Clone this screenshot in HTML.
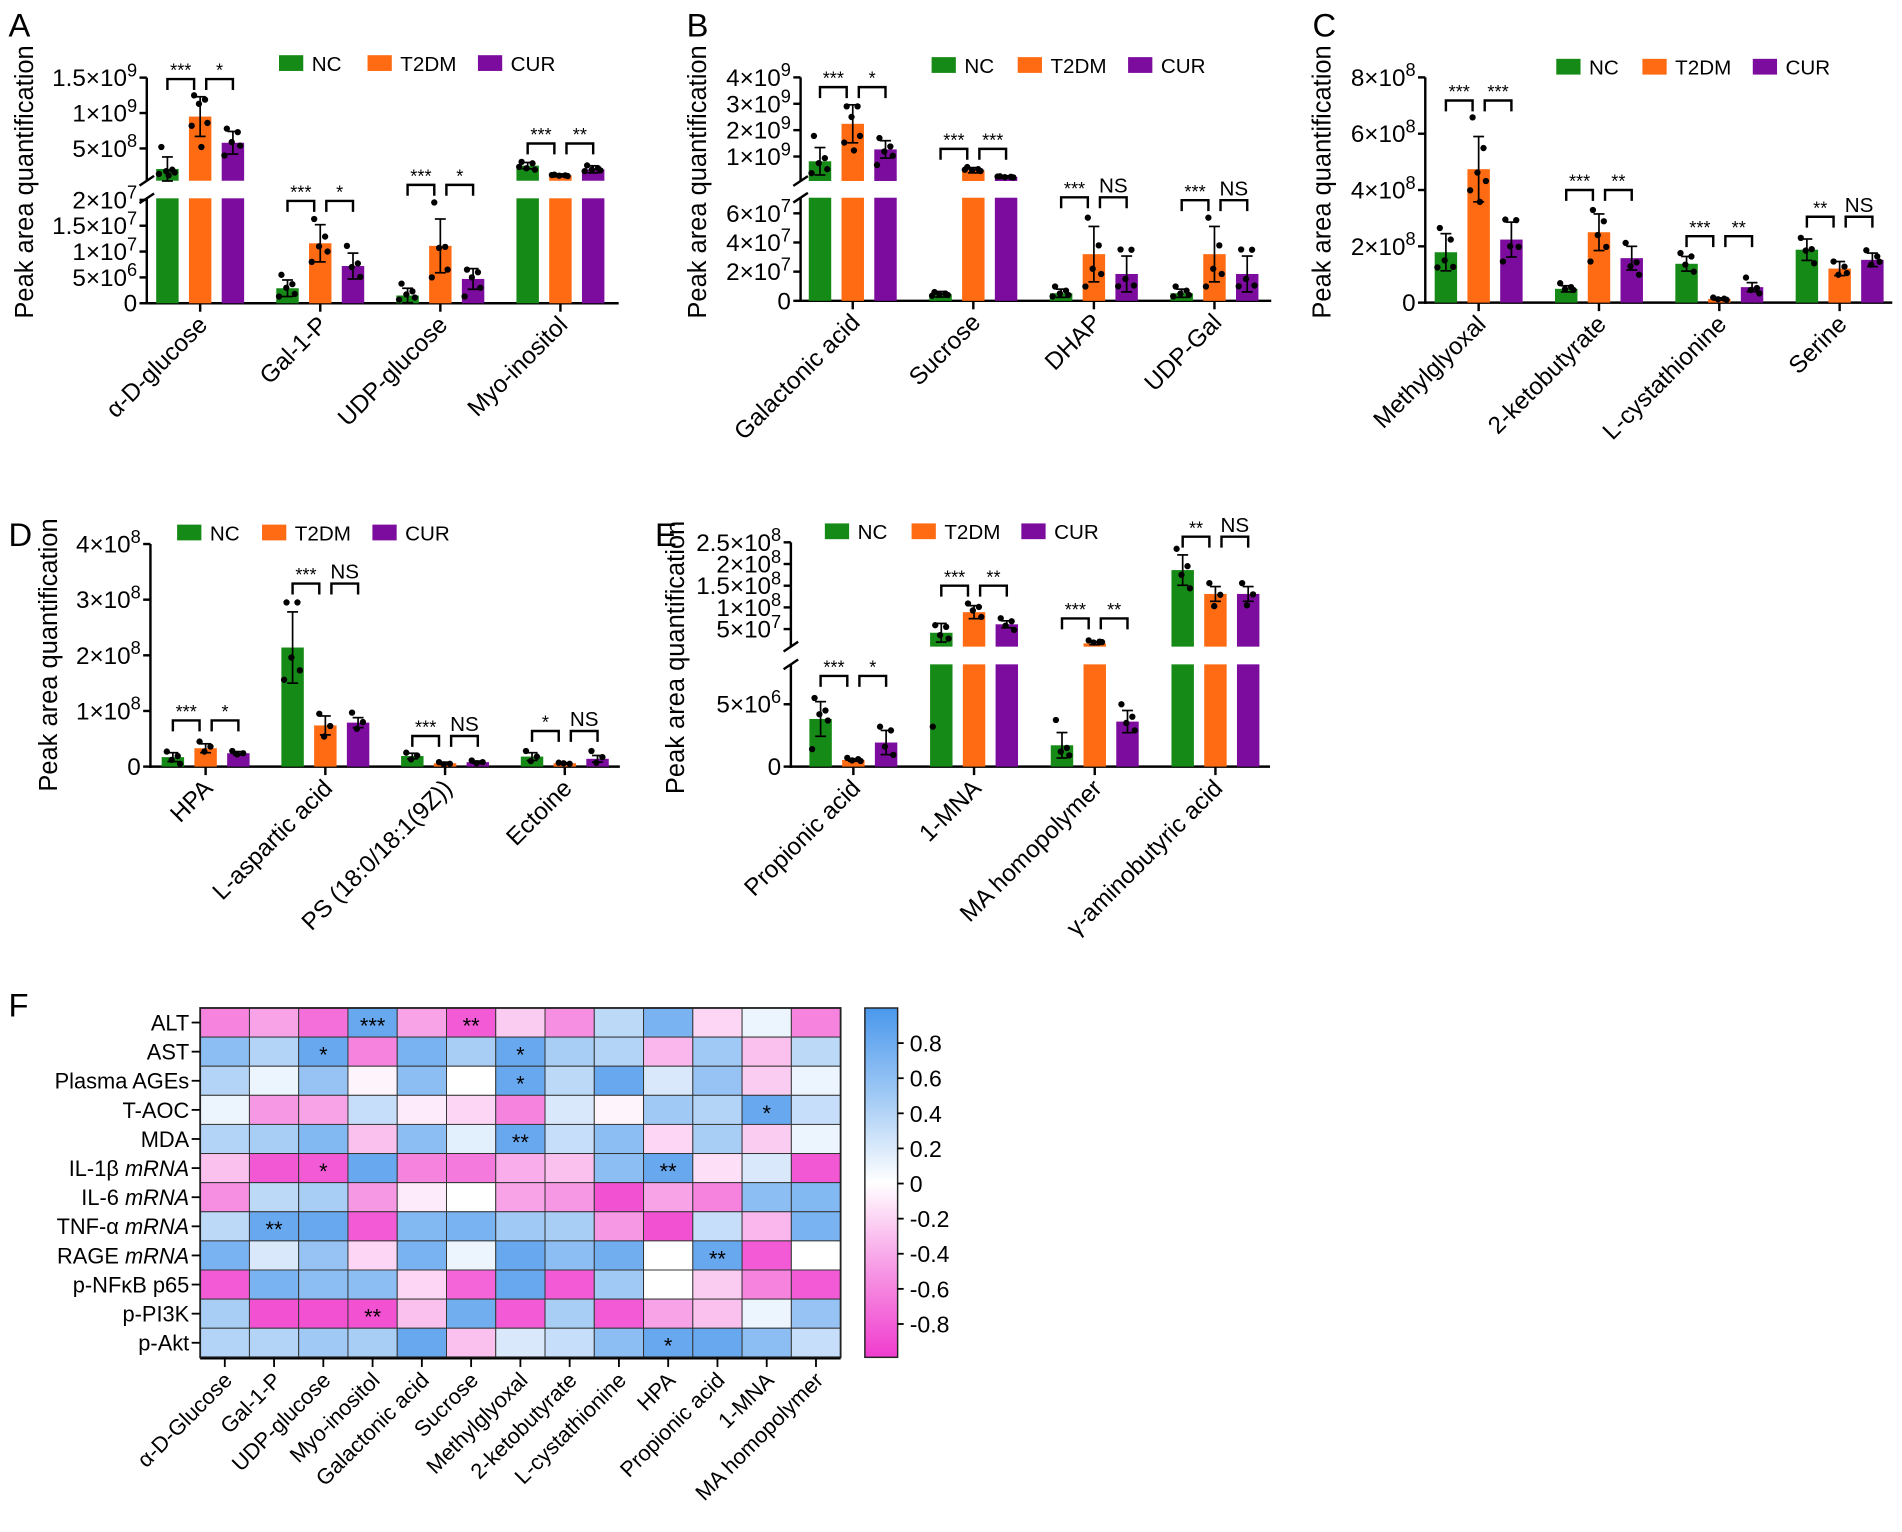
<!DOCTYPE html>
<html><head><meta charset="utf-8"><style>
html,body{margin:0;padding:0;background:#fff;}
svg{display:block;font-family:"Liberation Sans",Arial,sans-serif;}
</style></head><body>
<svg id="fig" xmlns="http://www.w3.org/2000/svg" width="1902" height="1532" viewBox="0 0 1568 1263"></svg>
<script>
// ---------- DATA ----------
const seriesNames = ["NC","T2DM","CUR"];
// Panel A
const aCats = ["α-D-glucose","Gal-1-P","UDP-glucose","Myo-inositol"];
const aMean = [[2.1e8,9.5e8,5.8e8],[2.9e6,1.16e7,7.2e6],[1.5e6,1.11e7,4.7e6],[2.57e8,1.2e8,2.05e8]];
const aSd = [[1.7e8,2.8e8,1.6e8],[1.6e6,3.6e6,2.5e6],[1.4e6,5.2e6,2.0e6],[0.45e8,0.2e8,0.5e8]];
const aPts = [[[5.2e8,2e8,1.8e8,1.6e8,1.4e8,1.2e8],[1.25e9,1.19e9,1.13e9,8.6e8,8.2e8,5.2e8],[7.8e8,7.3e8,5.9e8,5.4e8,4.0e8]],
 [[5.5e6,3.7e6,3e6,1.8e6,1.3e6],[1.63e7,1.29e7,1.1e7,1e7,8e6],[1.11e7,7.7e6,7e6,5.1e6]],
 [[3.8e6,2.3e6,1.7e6,1.1e6,0.7e6],[1.95e7,1.09e7,1.07e7,6.5e6,5e6],[6.5e6,6e6,5e6,3e6,1.3e6]],
 [[3.1e8,2.9e8,2.2e8,2e8,2.4e8],[1.3e8,1.2e8,1.15e8,1.1e8,1.25e8],[2.6e8,2.2e8,2e8,1.9e8,1.8e8]]];
const aSig = [[1.48e9,1,"***","*"],[1.98e7,0,"***","*"],[2.29e7,0,"***","*"],[5.7e8,1,"***","**"]];
const aTicksLo = [0,5e6,1e7,1.5e7,2e7];
const aTickLabLo = ["0","5×10^6","1×10^7","1.5×10^7","2×10^7"];
const aTicksHi = [5e8,1e9,1.5e9];
const aTickLabHi = ["5×10^8","1×10^9","1.5×10^9"];
// Panel B
const bCats = ["Galactonic acid","Sucrose","DHAP","UDP-Gal"];
const bMean = [[0.82e9,2.24e9,1.27e9],[0.45e7,0.48e9,0.23e9],[0.52e7,3.2e7,1.84e7],[0.52e7,3.2e7,1.84e7]];
const bSd = [[0.52e9,0.72e9,0.33e9],[0.19e7,0.1e9,0.04e9],[0.28e7,1.9e7,1.23e7],[0.28e7,1.9e7,1.23e7]];
const bPts = [[[1.78e9,0.94e9,0.75e9,0.52e9,0.37e9],[2.9e9,2.9e9,2.5e9,1.78e9,1.53e9,1.23e9],[1.7e9,1.38e9,1.19e9,1.03e9,0.68e9]],
 [[0.6e7,0.5e7,0.45e7,0.4e7,0.35e7],[0.6e9,0.52e9,0.48e9,0.45e9,0.5e9],[0.25e9,0.23e9,0.22e9,0.21e9,0.24e9]],
 [[0.98e7,0.7e7,0.5e7,0.4e7,0.3e7],[5.7e7,3.8e7,2.2e7,1.84e7,0.98e7],[3.52e7,3.5e7,1.5e7,1.05e7,1.0e7]],
 [[0.98e7,0.7e7,0.5e7,0.4e7,0.3e7],[5.7e7,3.8e7,2.2e7,1.84e7,0.98e7],[3.52e7,3.5e7,1.5e7,1.05e7,1.0e7]]];
const bSig = [[3.63e9,1,"***","*"],[1.29e9,1,"***","***"],[7.1e7,0,"***","NS"],[6.9e7,0,"***","NS"]];
const bTicksLo = [0,2e7,4e7,6e7];
const bTickLabLo = ["0","2×10^7","4×10^7","6×10^7"];
const bTicksHi = [1e9,2e9,3e9,4e9];
const bTickLabHi = ["1×10^9","2×10^9","3×10^9","4×10^9"];
// Panel C
const cCats = ["Methylglyoxal","2-ketobutyrate","L-cystathionine","Serine"];
const cMean = [[1.79e8,4.74e8,2.24e8],[0.49e8,2.5e8,1.58e8],[1.38e8,0.13e8,0.55e8],[1.88e8,1.21e8,1.52e8]];
const cSd = [[0.66e8,1.16e8,0.62e8],[0.11e8,0.65e8,0.42e8],[0.26e8,0.04e8,0.16e8],[0.38e8,0.25e8,0.24e8]];
const cPts = [[[2.65e8,2.24e8,1.5e8,1.27e8,1.25e8],[6.58e8,5.49e8,4.62e8,4.32e8,3.99e8,3.58e8],[2.95e8,2.93e8,2.0e8,1.98e8,1.46e8]],
 [[0.69e8,0.55e8,0.48e8,0.45e8],[3.29e8,2.89e8,2.4e8,1.98e8,1.46e8],[2.12e8,1.43e8,1.29e8,0.99e8]],
 [[1.76e8,1.64e8,1.35e8,1.1e8],[0.18e8,0.14e8,0.12e8,0.1e8],[0.89e8,0.52e8,0.45e8,0.33e8]],
 [[2.3e8,1.9e8,1.85e8,1.4e8],[1.46e8,1.28e8,0.99e8,1.05e8],[1.86e8,1.64e8,1.35e8,1.45e8]]];
const cSig = [[7.18e8,0,"***","***"],[4.0e8,0,"***","**"],[2.36e8,0,"***","**"],[3.05e8,0,"**","NS"]];
const cTicks = [0,2e8,4e8,6e8,8e8];
const cTickLab = ["0","2×10^8","4×10^8","6×10^8","8×10^8"];
// Panel D
const dCats = ["HPA","L-aspartic acid","PS (18:0/18:1(9Z))","Ectoine"];
const dMean = [[0.17e8,0.33e8,0.24e8],[2.14e8,0.74e8,0.79e8],[0.19e8,0.06e8,0.08e8],[0.18e8,0.06e8,0.14e8]];
const dSd = [[0.08e8,0.08e8,0.03e8],[0.64e8,0.17e8,0.09e8],[0.05e8,0.02e8,0.02e8],[0.07e8,0.01e8,0.06e8]];
const dPts = [[[0.27e8,0.19e8,0.12e8,0.05e8],[0.45e8,0.36e8,0.27e8],[0.28e8,0.24e8,0.22e8]],
 [[2.95e8,2.95e8,1.96e8,1.73e8,1.56e8],[0.95e8,0.73e8,0.54e8],[0.97e8,0.8e8,0.68e8]],
 [[0.25e8,0.2e8,0.13e8],[0.08e8,0.05e8,0.04e8],[0.11e8,0.08e8,0.06e8]],
 [[0.28e8,0.18e8,0.1e8],[0.07e8,0.05e8,0.06e8],[0.28e8,0.17e8,0.07e8]]];
const dSig = [[0.83e8,0,"***","*"],[3.29e8,0,"***","NS"],[0.55e8,0,"***","NS"],[0.64e8,0,"*","NS"]];
const dTicks = [0,1e8,2e8,3e8,4e8];
const dTickLab = ["0","1×10^8","2×10^8","3×10^8","4×10^8"];
// Panel E
const eCats = ["Propionic acid","1-MNA","MA homopolymer","γ-aminobutyric acid"];
const eMean = [[3.82e6,0.53e6,1.93e6],[4.15e7,8.9e7,6.1e7],[1.71e6,1.7e7,3.61e6],[1.86e8,1.31e8,1.31e8]];
const eSd = [[1.39e6,0.1e6,0.97e6],[2.15e7,1.5e7,0.8e7],[1.02e6,0.3e7,0.89e6],[0.35e8,0.17e8,0.17e8]];
const ePts = [[[5.5e6,4.5e6,4.2e6,3.7e6,1.4e6],[0.7e6,0.6e6,0.5e6,0.45e6],[3.2e6,2.9e6,1.6e6,0.94e6]],
 [[5.9e7,5.5e7,3.6e7,2.8e7,3.2e6],[1.09e8,1.01e8,9.3e7,7.8e7],[7.5e7,6.8e7,5.8e7,4.8e7]],
 [[3.74e6,1.5e6,1.2e6,0.9e6],[2.4e7,2.1e7,1.9e7,2.0e7],[5e6,4e6,3.5e6,2.9e6]],
 [[2.35e8,1.95e8,1.75e8,1.44e8],[1.56e8,1.29e8,1.03e8],[1.56e8,1.3e8,1.05e8]]];
const eSig = [[7.27e6,0,"***","*"],[1.5e8,1,"***","**"],[7.46e7,1,"***","**"],[2.63e8,1,"**","NS"]];
const eTicksLo = [0,5e6];
const eTickLabLo = ["0","5×10^6"];
const eTicksHi = [5e7,1e8,1.5e8,2e8,2.5e8];
const eTickLabHi = ["5×10^7","1×10^8","1.5×10^8","2×10^8","2.5×10^8"];
// Panel F heatmap
const fRows = ["ALT","AST","Plasma AGEs","T-AOC","MDA","IL-1β|mRNA","IL-6|mRNA","TNF-α|mRNA","RAGE|mRNA","p-NFκB p65","p-PI3K","p-Akt"];
const fCols = ["α-D-Glucose","Gal-1-P","UDP-glucose","Myo-inositol","Galactonic acid","Sucrose","Methylglyoxal","2-ketobutyrate","L-cystathionine","HPA","Propionic acid","1-MNA","MA homopolymer"];
const fVals = [
 [-0.6,-0.45,-0.7,0.8,-0.45,-0.8,-0.25,-0.55,0.35,0.7,-0.2,0.1,-0.6],
 [0.6,0.4,0.8,-0.6,0.7,0.45,0.8,0.45,0.4,-0.35,0.5,-0.3,0.35],
 [0.4,0.1,0.55,-0.05,0.6,0.0,0.8,0.35,0.8,0.2,0.55,-0.25,0.1],
 [0.1,-0.5,-0.45,0.3,-0.1,-0.2,-0.6,0.2,-0.05,0.5,0.4,0.8,0.3],
 [0.4,0.45,0.65,-0.3,0.6,0.15,0.8,0.3,0.6,-0.2,0.45,-0.25,0.1],
 [-0.3,-0.82,-0.8,0.8,-0.6,-0.65,-0.4,-0.3,0.6,0.8,-0.15,0.2,-0.82],
 [-0.55,0.35,0.45,-0.5,-0.1,0.0,-0.45,-0.5,-0.85,-0.45,-0.6,0.6,0.65],
 [0.35,0.8,0.8,-0.8,0.65,0.7,0.5,0.45,-0.5,-0.85,0.3,-0.35,0.7],
 [0.7,0.2,0.55,-0.2,0.7,0.1,0.8,0.6,0.75,0.0,0.8,-0.8,0.0],
 [-0.8,0.7,0.6,0.6,-0.2,-0.75,0.8,-0.8,0.5,0.0,-0.25,-0.6,-0.8],
 [0.45,-0.85,-0.85,-0.85,-0.3,0.75,-0.8,0.45,-0.8,-0.45,-0.3,0.1,0.55],
 [0.4,0.4,0.5,0.45,0.8,-0.3,0.2,0.3,0.6,0.8,0.8,0.6,0.3]];
const fStars = [[0,3,"***"],[0,5,"**"],[1,2,"*"],[1,6,"*"],[2,6,"*"],[3,11,"*"],[4,6,"**"],[5,2,"*"],[5,9,"**"],[7,1,"**"],[8,10,"**"],[10,3,"**"],[11,9,"*"]];
const cbTicks = [0.8,0.6,0.4,0.2,0,-0.2,-0.4,-0.6,-0.8];

// ---------- DRAW ----------
const NS = "http://www.w3.org/2000/svg";
const svg = document.getElementById("fig");
const COLORS = ["#168a16","#ff6b12","#7b0c9d"];
function mk(tag, attrs, parent){
  const el = document.createElementNS(NS, tag);
  for (const k in attrs) el.setAttribute(k, attrs[k]);
  (parent||svg).appendChild(el);
  return el;
}
function supText(parent, x, y, lab, size, anchor){
  const t = mk("text",{x:x,y:y,"font-size":size,"text-anchor":anchor||"end",fill:"#000"},parent);
  const parts = lab.split("^");
  const a = document.createElementNS(NS,"tspan"); a.textContent = parts[0]; t.appendChild(a);
  if (parts[1]) { const b = document.createElementNS(NS,"tspan"); b.setAttribute("dy",-8); b.setAttribute("font-size",size*0.75); b.textContent = parts[1]; t.appendChild(b); }
  return t;
}
function makeScale(segs){
  return function(v, seg){
    let s;
    if (seg !== undefined) s = segs[seg];
    else s = (segs.length>1 && v > segs[0].d1) ? segs[1] : segs[0];
    return s.y0 + (v - s.d0)/(s.d1 - s.d0)*(s.y1 - s.y0);
  };
}
function drawPanel(P){
  const g = mk("g",{});
  
  
  const L = P.layout, segs = P.segs, y = makeScale(segs);
  const lt = mk("text",{x:L.letter[0],y:L.letter[1],"font-size":27,fill:"#000"},g);
  lt.textContent = P.letter;
  
  
  const yt = mk("text",{x:0,y:0,"font-size":21,"text-anchor":"middle",transform:`translate(${L.yTitle[0]},${L.yTitle[1]}) rotate(-90)`},g);
  yt.textContent = "Peak area quantification";
  
  
  const ax = mk("g",{stroke:"#000","stroke-width":2,fill:"none"},g);
  
  
  segs.forEach(s=>{ mk("line",{x1:L.ax,x2:L.ax,y1:s.y0+(s===segs[0]?1:0),y2:s.y1},ax); });
  if (segs.length>1){
    mk("line",{x1:L.ax-6,y1:segs[0].y1+4,x2:L.ax+6,y2:segs[0].y1-4},ax);
    mk("line",{x1:L.ax-6,y1:segs[1].y0+4,x2:L.ax+6,y2:segs[1].y0-4},ax);
  }
  P.ticks.forEach((tk,si)=>{
    tk.v.forEach((v,i)=>{
      const yy = y(v, si);
      mk("line",{x1:L.ax-6,x2:L.ax,y1:yy,y2:yy},ax);
      const t = supText(g, L.ax-8, yy+7, tk.l[i], 20);
      
      
    });
  });
  const xa = mk("line",{x1:L.ax-1,x2:L.xEnd,y1:L.ay,y2:L.ay,stroke:"#000","stroke-width":2},g);
  
  
  const bw = 18.5, off = 27;
  P.cats.forEach((c,gi)=>{
    const gx = L.g0 + gi*L.step;
    mk("line",{x1:gx,x2:gx,y1:L.ay,y2:L.ay+7,stroke:"#000","stroke-width":2},g);
    const ct = mk("text",{x:0,y:0,"font-size":20,"text-anchor":"end",transform:`translate(${gx+7},${L.ay+19}) rotate(-45)`},g);
    ct.textContent = c;
    
    
    for (let s=0;s<3;s++){
      const cx = gx + (s-1)*off, m = P.mean[gi][s], sd = P.sd[gi][s];
      const bg = mk("g",{},g);
      
      
      if (segs.length>1 && m > segs[0].d1){
        mk("rect",{x:cx-bw/2,y:segs[0].y1,width:bw,height:L.ay-segs[0].y1,fill:COLORS[s]},bg);
        const yt2 = y(m);
        mk("rect",{x:cx-bw/2,y:yt2,width:bw,height:segs[1].y0-yt2,fill:COLORS[s]},bg);
      } else {
        const yt2 = y(m);
        mk("rect",{x:cx-bw/2,y:yt2,width:bw,height:L.ay-yt2,fill:COLORS[s]},bg);
      }
      const hi = y(m+sd), lo = y(Math.max(m-sd, 0));
      mk("line",{x1:cx,x2:cx,y1:hi,y2:lo,stroke:"#000","stroke-width":1.4},bg);
      mk("line",{x1:cx-4.5,x2:cx+4.5,y1:hi,y2:hi,stroke:"#000","stroke-width":1.4},bg);
      mk("line",{x1:cx-4.5,x2:cx+4.5,y1:lo,y2:lo,stroke:"#000","stroke-width":1.4},bg);
      const jit = [-5,4,-1,6,-7,1];
      P.pts[gi][s].forEach((v,k)=>{
        const p = mk("circle",{cx:cx+jit[k%jit.length],cy:y(v),r:2.6,fill:"#000"},bg);
        
        
      });
    }
    const sg = P.sig[gi], yb = y(sg[0], sg[1]);
    const br = mk("g",{stroke:"#000","stroke-width":2,fill:"none"},g);
    
    
    const pairs = [[gx-off, gx-5],[gx+5, gx+off]];
    pairs.forEach((pr,k)=>{
      mk("polyline",{points:`${pr[0]},${yb+9} ${pr[0]},${yb} ${pr[1]},${yb} ${pr[1]},${yb+9}`},br);
      const lab = sg[2+k];
      const st = mk("text",{x:(pr[0]+pr[1])/2,y:lab==="NS"?yb-4:yb-2,"font-size":lab==="NS"?17:15,"text-anchor":"middle",fill:"#000"},g);
      st.textContent = lab;
      
      
    });
  });
  const lg = mk("g",{},g);
  
  
  seriesNames.forEach((n,i)=>{
    const e = mk("g",{},lg);
    
    
    mk("rect",{x:L.leg[i],y:L.legY-6.5,width:20,height:13,fill:COLORS[i]},e);
    const t = mk("text",{x:L.leg[i]+27,y:L.legY+6.5,"font-size":17,fill:"#000"},e);
    t.textContent = n;
  });
}
drawPanel({name:"panel-a",letter:"A",cats:aCats,mean:aMean,sd:aSd,pts:aPts,sig:aSig,
  ticks:[{v:aTicksLo,l:aTickLabLo},{v:aTicksHi,l:aTickLabHi}],
  segs:[{d0:0,d1:2.03e7,y0:250,y1:163.5},{d0:0.044e9,d1:1.5e9,y0:149,y1:64}],
  layout:{ax:121,ay:250,xEnd:510,g0:165,step:99,letter:[7,30],yTitle:[27,150],leg:[230,303,394],legY:52}});
drawPanel({name:"panel-b",letter:"B",cats:bCats,mean:bMean,sd:bSd,pts:bPts,sig:bSig,
  ticks:[{v:bTicksLo,l:bTickLabLo},{v:bTicksHi,l:bTickLabHi}],
  segs:[{d0:0,d1:7.07e7,y0:248,y1:163},{d0:0.073e9,d1:4e9,y0:149.2,y1:63.8}],
  layout:{ax:660,ay:248,xEnd:1048,g0:703,step:99.4,letter:[566,30],yTitle:[582,150],leg:[768,839,930],legY:53.6}});
drawPanel({name:"panel-c",letter:"C",cats:cCats,mean:cMean,sd:cSd,pts:cPts,sig:cSig,
  ticks:[{v:cTicks,l:cTickLab}],
  segs:[{d0:0,d1:8e8,y0:249.5,y1:63.8}],
  layout:{ax:1175,ay:249.5,xEnd:1560,g0:1219,step:99.2,letter:[1082,30],yTitle:[1097,150],leg:[1283,1354,1445],legY:55}});
drawPanel({name:"panel-d",letter:"D",cats:dCats,mean:dMean,sd:dSd,pts:dPts,sig:dSig,
  ticks:[{v:dTicks,l:dTickLab}],
  segs:[{d0:0,d1:4e8,y0:632,y1:448.5}],
  layout:{ax:124,ay:632,xEnd:511,g0:169.5,step:98.7,letter:[7,450],yTitle:[47,540],leg:[146,216,307],legY:439}});
drawPanel({name:"panel-e",letter:"E",cats:eCats,mean:eMean,sd:eSd,pts:ePts,sig:eSig,
  ticks:[{v:eTicksLo,l:eTickLabLo},{v:eTicksHi,l:eTickLabHi}],
  segs:[{d0:0,d1:8.2e6,y0:632,y1:547.7},{d0:0.95e7,d1:2.5e8,y0:533.1,y1:447.1}],
  layout:{ax:652,ay:632,xEnd:1047,g0:703.5,step:99.5,letter:[540,450],yTitle:[564,542],leg:[680,751.5,842],legY:438}});

// Heatmap
function colorOf(v){
  const pos=[74,152,236], neg=[240,60,205];
  const c = v>=0?pos:neg, a=Math.min(Math.abs(v)/0.95,1);
  const r = Math.round(255+(c[0]-255)*a), gg=Math.round(255+(c[1]-255)*a), b=Math.round(255+(c[2]-255)*a);
  return `rgb(${r},${gg},${b})`;
}
const HM = {x0:165,x1:693,y0:831,y1:1119};
const hg = mk("g",{});


const fl = mk("text",{x:7,y:838,"font-size":27},hg);
fl.textContent = "F";


const cw = (HM.x1-HM.x0)/fCols.length, rh = (HM.y1-HM.y0)/fRows.length;
fVals.forEach((row,ri)=>{
  row.forEach((v,ci)=>{
    const r = mk("rect",{x:HM.x0+ci*cw,y:HM.y0+ri*rh,width:cw,height:rh,fill:colorOf(v),stroke:"#333","stroke-width":0.8},hg);
    
    
  });
});
mk("rect",{x:HM.x0,y:HM.y0,width:HM.x1-HM.x0,height:HM.y1-HM.y0,fill:"none",stroke:"#222","stroke-width":1.5},hg);
fStars.forEach(s=>{
  const t = mk("text",{x:HM.x0+(s[1]+0.5)*cw,y:HM.y0+(s[0]+0.5)*rh+9,"font-size":18,"text-anchor":"middle"},hg);
  t.textContent = s[2];
  
  
});
fRows.forEach((n,ri)=>{
  const yy = HM.y0+(ri+0.5)*rh;
  mk("line",{x1:HM.x0-7,x2:HM.x0,y1:yy,y2:yy,stroke:"#000","stroke-width":1.5},hg);
  const t = mk("text",{x:HM.x0-9,y:yy+6.5,"font-size":18,"text-anchor":"end"},hg);
  const p = n.split("|");
  const a = document.createElementNS(NS,"tspan"); a.textContent = p[0] + (p[1]?" ":""); t.appendChild(a);
  if (p[1]){ const b=document.createElementNS(NS,"tspan"); b.setAttribute("font-style","italic"); b.textContent=p[1]; t.appendChild(b); }
  
  
});
mk("line",{x1:HM.x0,x2:HM.x1,y1:HM.y1+1,y2:HM.y1+1,stroke:"#000","stroke-width":1.5},hg);
fCols.forEach((n,ci)=>{
  const xx = HM.x0+(ci+0.5)*cw;
  mk("line",{x1:xx,x2:xx,y1:HM.y1,y2:HM.y1+8,stroke:"#000","stroke-width":1.5},hg);
  const t = mk("text",{x:0,y:0,"font-size":18,"text-anchor":"end",transform:`translate(${xx+7},${HM.y1+20}) rotate(-45)`},hg);
  t.textContent = n;
  
  
});
// colorbar
const defs = mk("defs",{});
const lgd = mk("linearGradient",{id:"cbg",x1:0,y1:0,x2:0,y2:1},defs);
[1,0.5,0,-0.5,-1].forEach((v,i)=>{ mk("stop",{offset:(i*25)+"%","stop-color":colorOf(v)},lgd); });
const cb = mk("g",{});


const CB = {x:713,w:27,y0:831,y1:1119,vTop:1.0,vBot:-0.99};
mk("rect",{x:CB.x,y:CB.y0,width:CB.w,height:CB.y1-CB.y0,fill:"url(#cbg)",stroke:"#222","stroke-width":1.2},cb);
cbTicks.forEach(v=>{
  const yy = CB.y0 + (CB.vTop-v)/(CB.vTop-CB.vBot)*(CB.y1-CB.y0);
  mk("line",{x1:CB.x+CB.w,x2:CB.x+CB.w+5,y1:yy,y2:yy,stroke:"#000","stroke-width":1.5},cb);
  const t = mk("text",{x:CB.x+CB.w+10,y:yy+7,"font-size":19},cb);
  t.textContent = v===0?"0":String(v);
  
  
});
</script>
</body></html>
